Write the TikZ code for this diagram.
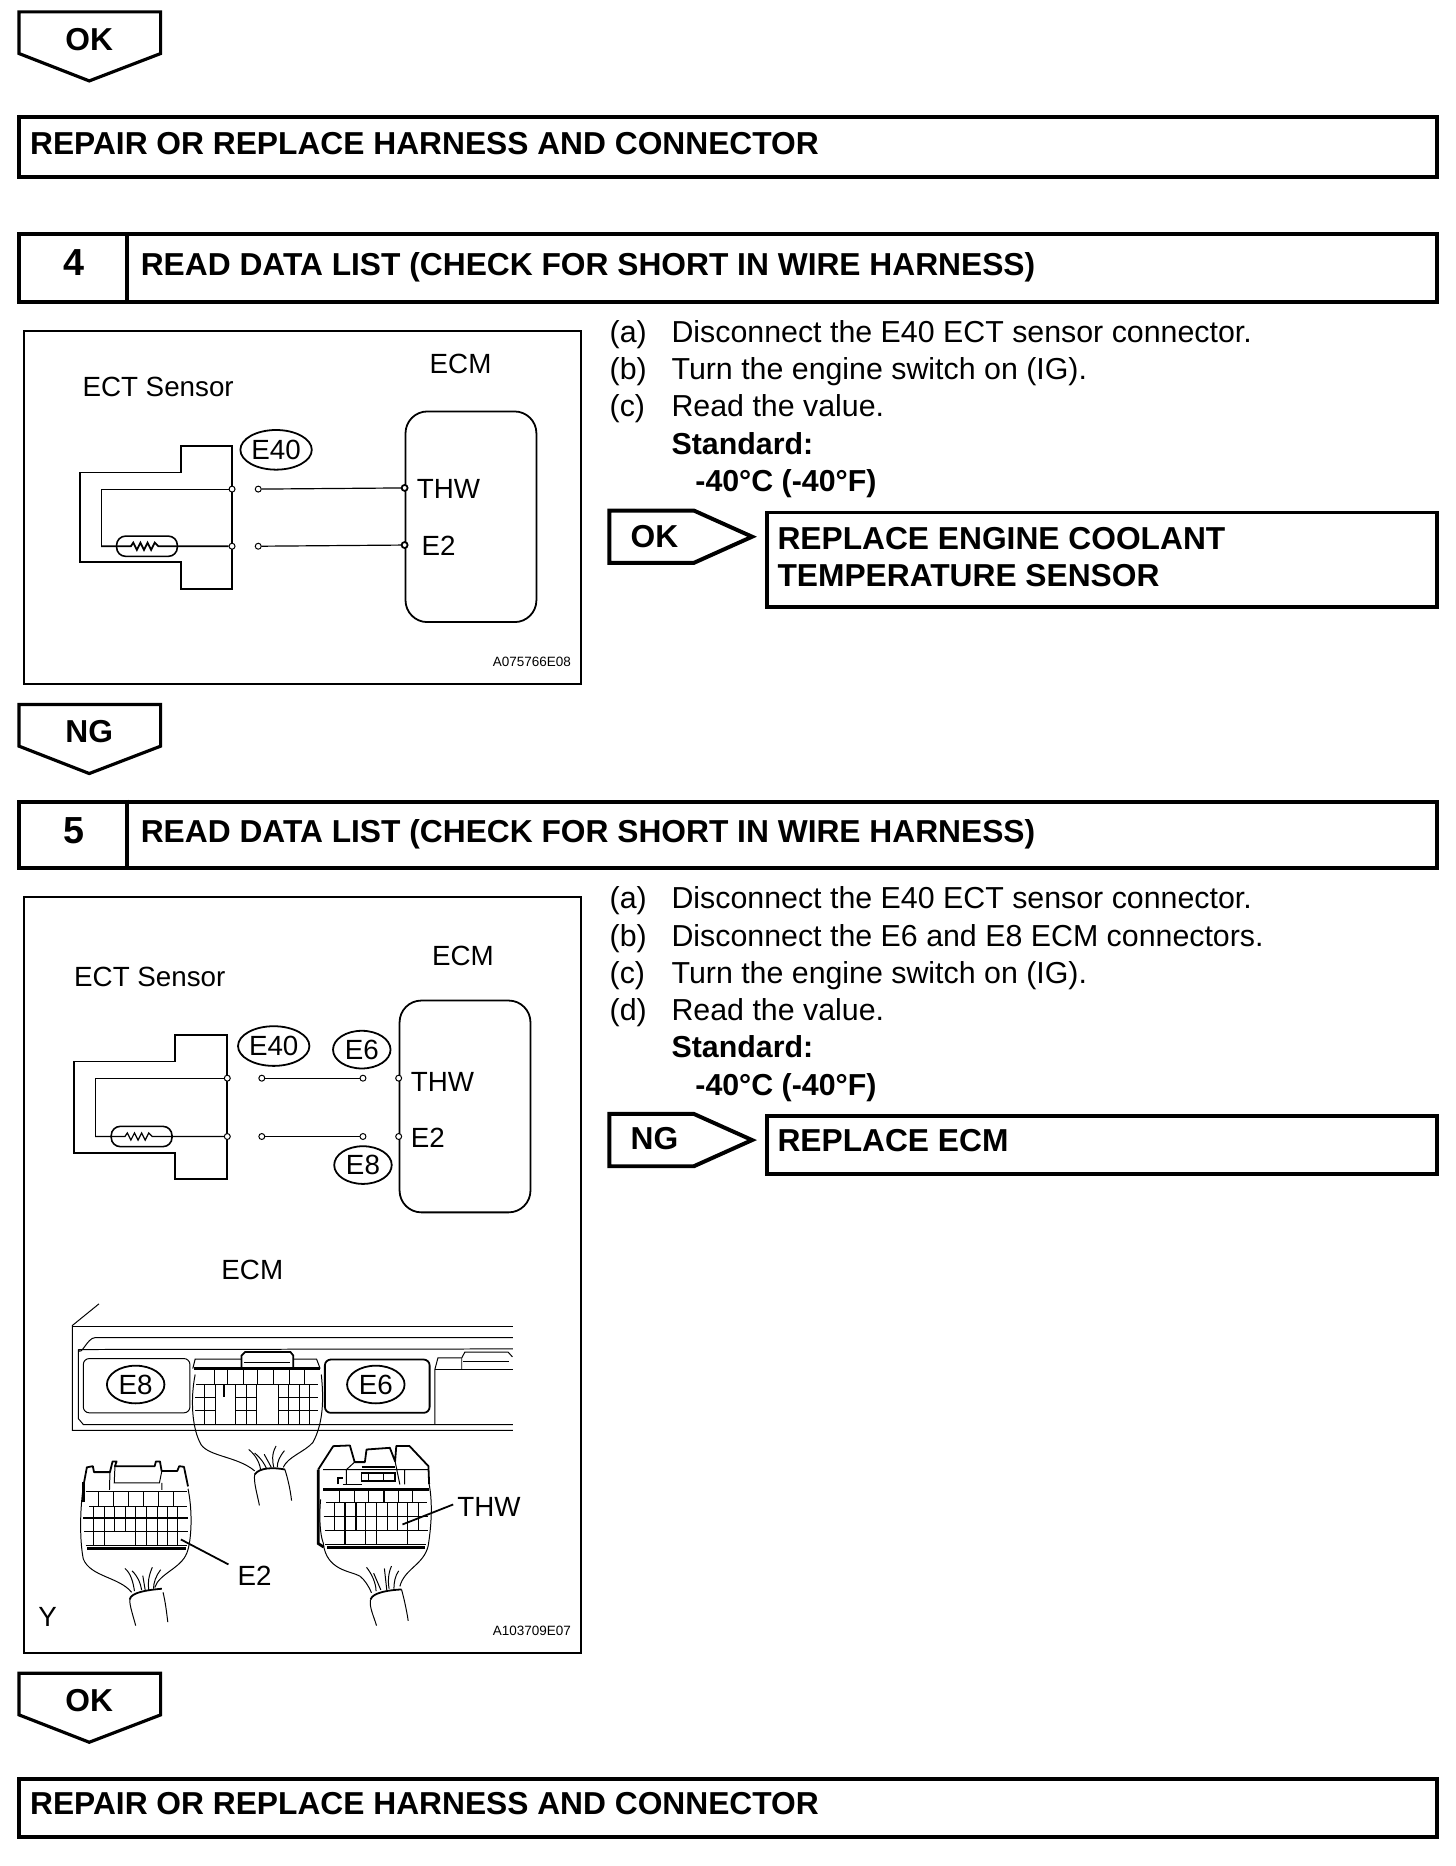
\documentclass[tikz,border=0pt]{standalone}
\usepackage{fontspec}
\setmainfont{Liberation Sans}
\usetikzlibrary{positioning,shapes.geometric}
\tikzset{
  heavy/.style={draw, line width=2pt},
  panel/.style={draw, line width=1.2pt},
  tagtext/.style={font=\fontsize{16}{18}\selectfont\bfseries, inner sep=0pt},
  steptitle/.style={anchor=west, inner sep=0pt, text height=11.5pt, text depth=0pt, font=\fontsize{16}{18}\selectfont\bfseries},
  stepnum/.style={inner sep=0pt, font=\fontsize{19}{20}\selectfont\bfseries},
  item/.style={anchor=north west, inner sep=0pt, text height=11pt, text depth=0pt, font=\fontsize{15.3}{18}\selectfont},
  itembold/.style={item, font=\fontsize{15.3}{18}\selectfont\bfseries},
  lab/.style={inner sep=0pt, font=\fontsize{14}{16}\selectfont},
  labw/.style={lab, anchor=west},
  idcode/.style={anchor=east, inner sep=0pt, font=\fontsize{6.8}{8}\selectfont},
  connid/.style={draw, ellipse, line width=0.9pt, inner sep=0pt, minimum width=36pt, minimum height=20pt, font=\fontsize{14}{16}\selectfont},
  connidb/.style={connid, minimum width=29pt, minimum height=19pt},
  ecmbox/.style={draw, line width=0.9pt, rounded corners=11pt},
  body/.style={draw, line width=0.9pt},
  wire/.style={draw, line width=0.6pt},
  term/.style={draw, circle, fill=white, line width=0.5pt, inner sep=0pt, minimum size=3pt},
  sensres/.style={draw, line width=0.8pt, rounded corners=4.5pt, minimum width=30.6pt, minimum height=10.2pt, inner sep=0pt},
  thin/.style={line width=0.5pt},
  med/.style={line width=0.9pt},
  fat/.style={line width=1.4pt}
}
\begin{document}
\begin{tikzpicture}[x=0.6pt,y=-0.6pt]
\useasboundingbox (0,0) rectangle (1223,1568);

% first tag and box
\draw[heavy, line width=1.6pt] (16,10) -- (135,10) -- (135,45) -- (75,68) -- (16,45) -- cycle;
\node[tagtext] (oka) at (75,33) {OK};
\node[heavy, minimum width=715.2pt, minimum height=30pt, anchor=north west] (repa) at (14,97) {};
\node[steptitle] (repatext) at (25,120) {REPAIR OR REPLACE HARNESS AND CONNECTOR};

% step 4
\node[heavy, minimum width=715.2pt, minimum height=34.2pt, anchor=north west] (headd) at (14,195) {};
\draw[heavy] (107,195) -- (107,252);
\node[stepnum] (numd) at (62,221) {4};
\node[steptitle] (titled) at (118,222) {READ DATA LIST (CHECK FOR SHORT IN WIRE HARNESS)};
\node[panel, minimum width=280.8pt, minimum height=178.2pt, anchor=north west] (paneld) at (19,277) {};

\node[lab, anchor=west] (sensd) at (69,325) {ECT Sensor};
\node[lab] (ecmd) at (387,306) {ECM};
\node[connid] (eford) at (232,378) {E40};
\draw[body] (67,397) -- (152,397) -- (152,375) -- (195,375) -- (195,495) -- (152,495) -- (152,472) -- (67,472) -- cycle;
\node[ecmbox, minimum width=66pt, minimum height=106.2pt, anchor=north west] (ecmboxd) at (340,345) {};
\node[term] (tda) at (195,411) {};
\node[term] (tdb) at (195,459) {};
\node[term] (tdc) at (217,411) {};
\node[term] (tdd) at (217,459) {};
\node[term, line width=0.9pt] (tde) at (340,410) {};
\node[term, line width=0.9pt] (tdf) at (340,458) {};
\node[sensres] (resd) at (123.5,459) {};
\coordinate (cda) at (85,411);
\coordinate (cdb) at (85,459);
\draw[wire] (tda) -- (cda) -- (cdb);
\draw[wire, med] (cdb) -- (110,459) -- (112,456) -- (115,462) -- (118,456) -- (121,462) -- (124,456) -- (127,462) -- (130,456) -- (133,459) -- (tdb);
\draw[wire] (tdc) -- (tde);
\draw[wire] (tdd) -- (tdf);
\node[labw] (thwd) at (350,411) {THW};
\node[labw] (etwod) at (354,459) {E2};
\node[idcode] (idd) at (480,556) {A075766E08};

% step 4 right side
\node[item] (sda) at (512,269) {\makebox[31.2pt][l]{(a)}Disconnect the E40 ECT sensor connector.};
\node[item, below right=7.4pt and 0pt of sda.south west] (sdb) {\makebox[31.2pt][l]{(b)}Turn the engine switch on (IG).};
\node[item, below right=7.4pt and 0pt of sdb.south west] (sdc) {\makebox[31.2pt][l]{(c)}Read the value.};
\node[itembold, below right=7.4pt and 31.2pt of sdc.south west] (sdd) {Standard:};
\node[itembold, below right=7.4pt and 12pt of sdd.south west] (sde) {-40°C (-40°F)};

\draw[heavy] (512,429) -- (583,429) -- (632,451) -- (583,473) -- (512,473) -- cycle;
\node[tagtext] (okd) at (550,451) {OK};
\node[heavy, minimum width=337.8pt, minimum height=47.4pt, anchor=north west] (repld) at (643,429) {};
\node[steptitle] (repldtext) at (653,452) {REPLACE ENGINE COOLANT};
\node[steptitle, below right=6.8pt and 0pt of repldtext.south west, anchor=north west] (repldtextb) {TEMPERATURE SENSOR};

\draw[heavy, line width=1.6pt] (16,592) -- (135,592) -- (135,627) -- (75,650) -- (16,627) -- cycle;
\node[tagtext] (ngd) at (75,615) {NG};

% step 5
\node[heavy, minimum width=715.2pt, minimum height=33.6pt, anchor=north west] (heade) at (14,672) {};
\draw[heavy] (107,672) -- (107,728);
\node[stepnum] (nume) at (62,698) {5};
\node[steptitle] (titlee) at (118,698) {READ DATA LIST (CHECK FOR SHORT IN WIRE HARNESS)};
\node[panel, minimum width=280.8pt, minimum height=381pt, anchor=north west] (panele) at (19,753) {};

\node[lab, anchor=west] (sense) at (62,821) {ECT Sensor};
\node[lab] (ecme) at (389,803) {ECM};
\node[connid] (efore) at (230,879) {E40};
\node[connidb] (esixe) at (304,882) {E6};
\node[connidb] (eighte) at (305,979) {E8};
\draw[body] (62,892) -- (147,892) -- (147,870) -- (191,870) -- (191,991) -- (147,991) -- (147,969) -- (62,969) -- cycle;
\node[ecmbox, minimum width=66pt, minimum height=106.8pt, anchor=north west] (ecmboxe) at (335,840) {};
\node[term] (tea) at (191,906) {};
\node[term] (teb) at (191,955) {};
\node[term] (tec) at (220,906) {};
\node[term] (ted) at (220,955) {};
\node[term] (tee) at (305,906) {};
\node[term] (tef) at (305,955) {};
\node[term] (teg) at (335,906) {};
\node[term] (teh) at (335,955) {};
\node[sensres] (rese) at (119,955) {};
\coordinate (cea) at (80,906);
\coordinate (ceb) at (80,955);
\draw[wire] (tea) -- (cea) -- (ceb);
\draw[wire] (ceb) -- (105,955) -- (107,952) -- (110,958) -- (113,952) -- (116,958) -- (119,952) -- (122,958) -- (125,952) -- (128,955) -- (teb);
\draw[wire] (tec) -- (tee);
\draw[wire, med] (ted) -- (tef);
\node[labw] (thwe) at (345,909) {THW};
\node[labw] (etwoe) at (345,956) {E2};

% ecm unit
\node[lab] (ecmf) at (212,1067) {ECM};
\draw[thin] (83.2,1095.6) -- (60.8,1113.8) -- (60.8,1202) -- (431,1202);
\draw[thin] (60.8,1114.5) -- (431,1114.5);
\draw[thin] (65.8,1134) to[out=-70,in=180] (80,1124) -- (431,1124);
\draw[thin] (65.8,1134) -- (431,1133.5);
\draw[thin] (65.8,1134) -- (65.8,1192) -- (70,1197) -- (431,1197);
\draw[thin, rounded corners=3pt] (70,1141.6) rectangle (159.6,1187.2);
\draw[med, rounded corners=3pt] (273,1142.4) rectangle (361,1187.2);
\node[connidb] (eightf) at (114,1163.4) {E8};
\node[connidb] (esixf) at (315.8,1163.4) {E6};
\draw[thin] (365.4,1197) -- (365.4,1150.8) -- (368,1141) -- (388,1141);
\draw[med] (365.4,1150.8) -- (431,1150.8);
\draw[thin] (388,1150.8) -- (388,1141) -- (390.6,1136.2) -- (427,1136.2) -- (430.6,1140.2);
\draw[thin] (389,1144.4) -- (428,1144.4);

% middle plug
\draw[thin] (162,1150) -- (164,1142) -- (203,1142) (246.4,1142) -- (266,1142) -- (269,1150);
\draw[med] (203,1150) -- (203,1139) -- (206,1136) -- (244,1136) -- (246.4,1139) -- (246.4,1150);
\draw[thin] (205,1145) -- (244,1145);
\draw[fat] (163,1150) -- (269,1150);
\draw[thin] (180,1150) -- (180,1163.4) (191,1150) -- (191,1163.4) (204.4,1150) -- (204.4,1163.4) (216,1150) -- (216,1163.4) (229.6,1150) -- (229.6,1163.4) (243,1150) -- (243,1163.4) (255.6,1150) -- (255.6,1163.4);
\draw[thin] (165,1163.4) -- (267,1163.4) (164,1174) -- (181,1174) (198,1174) -- (215.6,1174) (233.8,1174) -- (267,1174) (164,1185) -- (181,1185) (198,1185) -- (215.6,1185) (233.8,1185) -- (267,1185) (167,1197) -- (265,1197);
\draw[thin] (172,1163.4) -- (172,1197) (181,1163.4) -- (181,1197) (198,1163.4) -- (198,1197) (207,1163.4) -- (207,1197) (215.6,1163.4) -- (215.6,1197) (233.8,1163.4) -- (233.8,1197) (242.2,1163.4) -- (242.2,1197) (251.4,1163.4) -- (251.4,1197) (259.8,1163.4) -- (259.8,1197);
\draw[med] (188.4,1163) -- (188.4,1174);
\draw[thin] (164,1155) .. controls (160,1175) and (161,1200) .. (169,1214) .. controls (176,1224) and (200,1224) .. (214,1236);
\draw[thin] (270,1155) .. controls (272,1175) and (272,1195) .. (263,1212) .. controls (256,1220) and (242,1224) .. (238,1233);
\draw[thin] (214,1239) .. controls (213,1245) and (216,1255) .. (218,1265);
\draw[thin] (239.4,1234.8) .. controls (242,1243) and (244,1252) .. (245,1261);
\draw[med] (214,1239) .. controls (218,1233) and (230,1233) .. (239.4,1234.8);
\draw[thin] (209,1218) .. controls (214,1222) and (218,1228) .. (219,1235) (214,1221) .. controls (220,1226) and (222,1230) .. (224,1234) (222,1222) -- (228,1233) (232,1215) .. controls (228,1222) and (229,1228) .. (230,1233) (239,1219) .. controls (235,1224) and (233,1228) .. (233,1233);

% left plug
\draw[med, line join=round] (70,1249) -- (73,1233) -- (78,1232) -- (79,1237) -- (92.4,1237) -- (94.6,1228) -- (98,1228) -- (96.6,1232) -- (130,1232) -- (131,1228) -- (134.4,1228) -- (135.8,1236) -- (149,1236) -- (150.6,1232) -- (154.6,1232.6) -- (158,1249);
\draw[thin] (92.4,1237) -- (92,1252) (96.6,1232) -- (96,1246) -- (134,1246) -- (136,1236) (136,1246) -- (136,1252);
\draw[thin] (72,1253) -- (157,1253) (75,1265.6) -- (157,1265.6) (71,1286.6) -- (158,1286.6);
\draw[med] (70,1275.4) -- (158,1275.4);
\draw[thin] (72,1298.6) -- (157,1298.6);
\draw[fat] (73,1301.4) -- (156,1301.4);
\draw[thin] (82.6,1253) -- (82.6,1265.6) (95.5,1253) -- (95.5,1265.6) (108,1253) -- (108,1265.6) (120.7,1253) -- (120.7,1265.6) (133.3,1253) -- (133.3,1265.6) (145.9,1253) -- (145.9,1265.6);
\draw[thin] (78.7,1265.6) -- (78.7,1298.6) (87.6,1265.6) -- (87.6,1298.6) (96.6,1265.6) -- (96.6,1286.6) (105.6,1265.6) -- (105.6,1286.6) (114,1265.6) -- (114,1298.6) (123.2,1265.6) -- (123.2,1298.6) (132.2,1265.6) -- (132.2,1298.6) (140.6,1265.6) -- (140.6,1298.6) (149,1265.6) -- (149,1298.6);
\draw[fat] (70,1245) -- (70,1262);
\draw[thin] (70,1249) .. controls (67,1270) and (67,1295) .. (70,1310) .. controls (76,1325) and (100,1325) .. (110.6,1338);
\draw[thin] (158,1251) .. controls (162,1270) and (161,1295) .. (157,1305) .. controls (152,1318) and (134,1322) .. (130,1334);
\draw[thin] (109,1344) .. controls (109,1350) and (112,1358) .. (114,1366);
\draw[thin] (137,1338) .. controls (139,1346) and (140,1355) .. (141,1363);
\draw[med] (109,1344) .. controls (110,1338) and (124,1336) .. (136,1335);
\draw[thin] (105,1318) .. controls (110,1322) and (112,1330) .. (113,1337) (111,1320) .. controls (116,1325) and (118,1330) .. (119,1336) (120,1324) -- (122,1336) (128,1317) .. controls (125,1324) and (124,1330) .. (125,1336) (135,1319) .. controls (131,1324) and (129,1330) .. (129,1335);
\coordinate (lefttip) at (152,1293.6);
\coordinate (leftend) at (192,1314.6);
\draw[med] (lefttip) -- (leftend);
\node[lab] (etwof) at (214,1324) {E2};
\node[lab] (yview) at (40,1359) {Y};

% right plug
\draw[med, line join=round] (267.4,1234.8) -- (280,1215.2) -- (294,1214.6) -- (298,1228.6) -- (306.6,1228.6) -- (308,1218) -- (327.6,1216.6) -- (332,1228) -- (333,1215) -- (344,1215) -- (360,1232) -- (360.6,1247);
\draw[fat] (267.4,1235) -- (267.4,1297) -- (272,1300);
\draw[thin] (271.6,1235) -- (360,1235) (291,1235) -- (298,1228.6) (291,1235) -- (291,1247.4) (340,1235) -- (340,1247.4) (332,1228) -- (336,1247.4);
\draw[med] (284,1247.4) -- (284,1242) -- (288,1242) (288,1247.4) -- (303.8,1247.4);
\draw[med] (303.8,1233) -- (331.8,1233) (303.8,1237.6) rectangle (331.8,1244.6);
\draw[thin] (310,1238) -- (310,1244) (322,1238) -- (322,1244);
\draw[fat] (271.6,1251.6) -- (360.6,1251.6);
\draw[thin] (274,1262.8) -- (359,1262.8) (272,1274.6) -- (360,1274.6) (273,1285.8) -- (360,1285.8) (273,1297.8) -- (358,1297.8);
\draw[fat] (275,1300.6) -- (357,1300.6);
\draw[thin] (285.6,1251.6) -- (285.6,1262.8) (298,1251.6) -- (298,1262.8) (310,1251.6) -- (310,1262.8) (335,1251.6) -- (335,1262.8) (347,1251.6) -- (347,1262.8);
\draw[med] (322.6,1251.6) -- (322.6,1262.8);
\draw[thin] (281.4,1262.8) -- (281.4,1285.8) (307.4,1262.8) -- (307.4,1297.8) (316.4,1262.8) -- (316.4,1297.8) (325.6,1262.8) -- (325.6,1285.8) (334,1262.8) -- (334,1285.8) (351.4,1262.8) -- (351.4,1285.8);
\draw[med] (289.8,1262.8) -- (289.8,1297.8) (299,1262.8) -- (299,1285.8) (342.4,1262.8) -- (342.4,1297.8);
\draw[thin] (269.4,1260) .. controls (268,1275) and (269,1290) .. (271.6,1296.4) .. controls (274,1320) and (295,1320) .. (302.4,1324.4) .. controls (306,1327) and (310,1333) .. (312.2,1338.4);
\draw[thin] (360.6,1247) .. controls (364,1265) and (362,1285) .. (359.8,1299) .. controls (356,1315) and (340,1318) .. (336,1333);
\draw[thin] (311.4,1344) .. controls (310,1350) and (314,1358) .. (316.4,1366);
\draw[thin] (337.4,1335.6) .. controls (340,1345) and (342,1355) .. (343,1362);
\draw[med] (311.4,1344) .. controls (313,1338) and (328,1336) .. (337.4,1335.6);
\draw[thin] (308,1317) .. controls (312,1322) and (316,1330) .. (316,1337) (314,1322) -- (320,1336) (323,1318) -- (325,1336) (329,1316) .. controls (326,1322) and (326,1330) .. (327,1335) (335,1320) .. controls (332,1324) and (331,1330) .. (331,1335);
\coordinate (righttip) at (338.2,1281);
\coordinate (rightend) at (380.8,1264.2);
\draw[med] (righttip) -- (rightend);
\node[labw] (thwf) at (384,1266) {THW};
\node[idcode] (ide) at (480,1370) {A103709E07};

% step 5 right side
\node[item] (sea) at (512,745) {\makebox[31.2pt][l]{(a)}Disconnect the E40 ECT sensor connector.};
\node[item, below right=7.4pt and 0pt of sea.south west] (seb) {\makebox[31.2pt][l]{(b)}Disconnect the E6 and E8 ECM connectors.};
\node[item, below right=7.4pt and 0pt of seb.south west] (sec) {\makebox[31.2pt][l]{(c)}Turn the engine switch on (IG).};
\node[item, below right=7.4pt and 0pt of sec.south west] (sed) {\makebox[31.2pt][l]{(d)}Read the value.};
\node[itembold, below right=7.4pt and 31.2pt of sed.south west] (see) {Standard:};
\node[itembold, below right=7.4pt and 12pt of see.south west] (sef) {-40°C (-40°F)};

\draw[heavy] (512,936) -- (583,936) -- (632,958) -- (583,980) -- (512,980) -- cycle;
\node[tagtext] (nge) at (550,957) {NG};
\node[heavy, minimum width=337.8pt, minimum height=29.4pt, anchor=north west] (reple) at (643,936) {};
\node[steptitle] (repletext) at (653,958) {REPLACE ECM};

% last tag and box
\draw[heavy, line width=1.6pt] (16,1406) -- (135,1406) -- (135,1441) -- (75,1464) -- (16,1441) -- cycle;
\node[tagtext] (okf) at (75,1429) {OK};
\node[heavy, minimum width=715.2pt, minimum height=29.4pt, anchor=north west] (repb) at (14,1493) {};
\node[steptitle] (repbtext) at (25,1515) {REPAIR OR REPLACE HARNESS AND CONNECTOR};
\end{tikzpicture}
\end{document}
